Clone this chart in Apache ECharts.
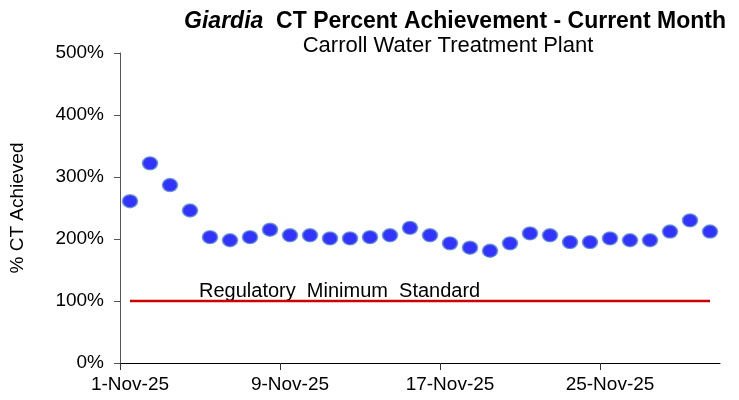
<!DOCTYPE html>
<html>
<head>
<meta charset="utf-8">
<script src="https://cdn.jsdelivr.net/npm/echarts@6/dist/echarts.min.js"></script>
<style>
  html, body { margin: 0; padding: 0; background: #fff; }
  #main { width: 739px; height: 400px; }
</style>
</head>
<body>
<div id="main"></div>
<script>
// days of November 2025 and the daily CT percent achieved
var days = [1, 2, 3, 4, 5, 6, 7, 8, 9, 10, 11, 12, 13, 14, 15,
            16, 17, 18, 19, 20, 21, 22, 23, 24, 25, 26, 27, 28, 29, 30];
var ctPercent = [261, 322, 287, 246, 203, 198, 203, 215, 206, 206, 201, 201, 203, 206, 218,
                 206, 193, 186, 181, 193, 209, 206, 195, 195, 201, 198, 198, 212, 230, 212];
var minStandard = [100, 100];
var tickDays = [1, 9, 17, 25];
var tickLabels = ['1-Nov-25', '9-Nov-25', '17-Nov-25', '25-Nov-25'];
var yTicks = [0, 100, 200, 300, 400, 500];

var FONT = 'Liberation Sans, Arial, sans-serif';

// each day sits in the middle of its slot, day 1 spans 0..1
var points = days.map(function (d, i) { return [d - 0.5, ctPercent[i]]; });
var stdLine = [[days[0] - 0.5, minStandard[0]], [days[days.length - 1] - 0.5, minStandard[1]]];
var labelPos = {};
tickDays.forEach(function (d, i) { labelPos[d - 0.5] = tickLabels[i]; });

var chart = echarts.init(document.getElementById('main'));

var option = {
  backgroundColor: '#fff',
  animation: false,
  title: [
    {
      text: '{i|Giardia}  CT Percent Achievement - Current Month',
      left: 450,
      top: 5,
      textAlign: 'center',
      textStyle: {
        fontFamily: FONT,
        fontSize: 23,
        fontWeight: 'bold',
        color: '#000',
        rich: {
          i: { fontFamily: FONT, fontSize: 23, fontWeight: 'bold', fontStyle: 'italic', color: '#000' }
        }
      }
    },
    {
      text: 'Carroll Water Treatment Plant',
      left: 443,
      top: 30,
      textAlign: 'center',
      textStyle: { fontFamily: FONT, fontSize: 22, fontWeight: 'normal', color: '#000' }
    }
  ],
  grid: { left: 120, right: 19, top: 53, bottom: 37 },
  xAxis: {
    type: 'value',
    min: 0,
    max: 30,
    interval: 8,
    splitLine: { show: false },
    axisLine: { lineStyle: { color: '#000', width: 1 } },
    axisTick: {
      show: true,
      length: 7,
      customValues: tickDays.map(function (d) { return d - 1; }),
      lineStyle: { color: '#333' }
    },
    axisLabel: {
      customValues: tickDays.map(function (d) { return d - 0.5; }),
      formatter: function (v) { return labelPos[v] || ''; },
      fontFamily: FONT,
      fontSize: 19,
      color: '#000',
      margin: 12
    }
  },
  yAxis: {
    type: 'value',
    min: yTicks[0],
    max: yTicks[yTicks.length - 1],
    interval: 100,
    name: '% CT Achieved',
    nameLocation: 'middle',
    nameGap: 93,
    nameTextStyle: { fontFamily: FONT, fontSize: 19, color: '#000' },
    splitLine: { show: false },
    axisLine: { show: true, lineStyle: { color: '#555', width: 1 } },
    axisTick: { show: true, length: 6, lineStyle: { color: '#555' } },
    axisLabel: {
      formatter: '{value}%',
      fontFamily: FONT,
      fontSize: 19,
      color: '#000',
      margin: 16
    }
  },
  series: [
    {
      name: 'Regulatory Minimum Standard',
      type: 'line',
      data: stdLine,
      symbol: 'none',
      lineStyle: { color: '#cc0000', width: 2.5 },
      silent: true,
      z: 1
    },
    {
      name: '% CT Achieved',
      type: 'scatter',
      data: points,
      symbol: 'circle',
      symbolSize: [15, 13],
      itemStyle: {
        color: '#0000ff',
        borderColor: '#5f8fcc',
        borderWidth: 1.5
      },
      z: 3
    }
  ],
  graphic: [
    {
      type: 'text',
      left: 199,
      top: 281,
      style: {
        text: 'Regulatory  Minimum  Standard',
        fontFamily: FONT,
        fontSize: 20,
        fill: '#000'
      }
    }
  ]
};

chart.setOption(option);
</script>
</body>
</html>
